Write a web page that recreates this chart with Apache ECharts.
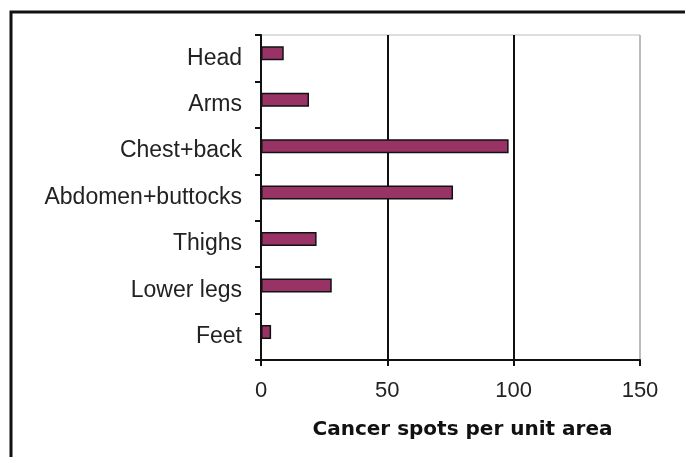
<!DOCTYPE html>
<html>
<head>
<meta charset="utf-8">
<script src="https://cdn.jsdelivr.net/npm/echarts@6/dist/echarts.min.js"></script>
<style>
  html, body { margin: 0; padding: 0; background: #fff; }
  #chart { width: 685px; height: 457px; }
</style>
</head>
<body>
<div id="chart"></div>
<script>
const categories = ['Head', 'Arms', 'Chest+back', 'Abdomen+buttocks', 'Thighs', 'Lower legs', 'Feet'];
const spots = [9, 19, 98, 76, 22, 28, 4];
const emptySeries = [null, null, null, null, null, null, null];
const xTicks = [0, 50, 100, 150];

const chart = echarts.init(document.getElementById('chart'));

chart.setOption({
  animation: false,
  backgroundColor: '#fff',
  graphic: [{
    type: 'rect',
    shape: { x: 11, y: 12, width: 720, height: 500 },
    style: { fill: 'none', stroke: '#111', lineWidth: 3 }
  }],
  grid: {
    left: 261,
    right: 45,
    top: 35,
    bottom: 97,
    show: true,
    borderColor: '#bbb',
    borderWidth: 1
  },
  xAxis: {
    type: 'value',
    min: xTicks[0],
    max: xTicks[xTicks.length - 1],
    interval: 50,
    name: 'Cancer spots per unit area',
    nameLocation: 'middle',
    nameGap: 60,
    nameTextStyle: {
      fontFamily: 'DejaVu Sans',
      fontWeight: 'bold',
      fontSize: 20,
      color: '#111',
      padding: [0, 0, 0, 24]
    },
    axisLine: { show: true, lineStyle: { color: '#111', width: 2 } },
    axisTick: { show: true, length: 6, lineStyle: { color: '#111', width: 2 } },
    axisLabel: {
      margin: 20,
      fontFamily: 'Liberation Sans',
      fontSize: 22,
      color: '#222'
    },
    splitLine: {
      show: true,
      lineStyle: { color: ['#111', '#111', '#111', '#bbb'], width: 2 }
    }
  },
  yAxis: {
    type: 'category',
    data: categories,
    inverse: true,
    axisLine: { show: true, lineStyle: { color: '#111', width: 2 } },
    axisTick: { show: true, length: 6, lineStyle: { color: '#111', width: 2 } },
    axisLabel: {
      margin: 19,
      padding: [5, 0, 0, 0],
      fontFamily: 'Liberation Sans',
      fontSize: 23,
      color: '#222'
    }
  },
  series: [
    {
      type: 'bar',
      data: spots,
      barWidth: 14,
      barGap: '-30%',
      itemStyle: { color: '#993366', borderColor: '#111', borderWidth: 1.5 }
    },
    {
      type: 'bar',
      data: emptySeries,
      barWidth: 14,
      itemStyle: { color: 'transparent' }
    }
  ]
});
</script>
</body>
</html>
